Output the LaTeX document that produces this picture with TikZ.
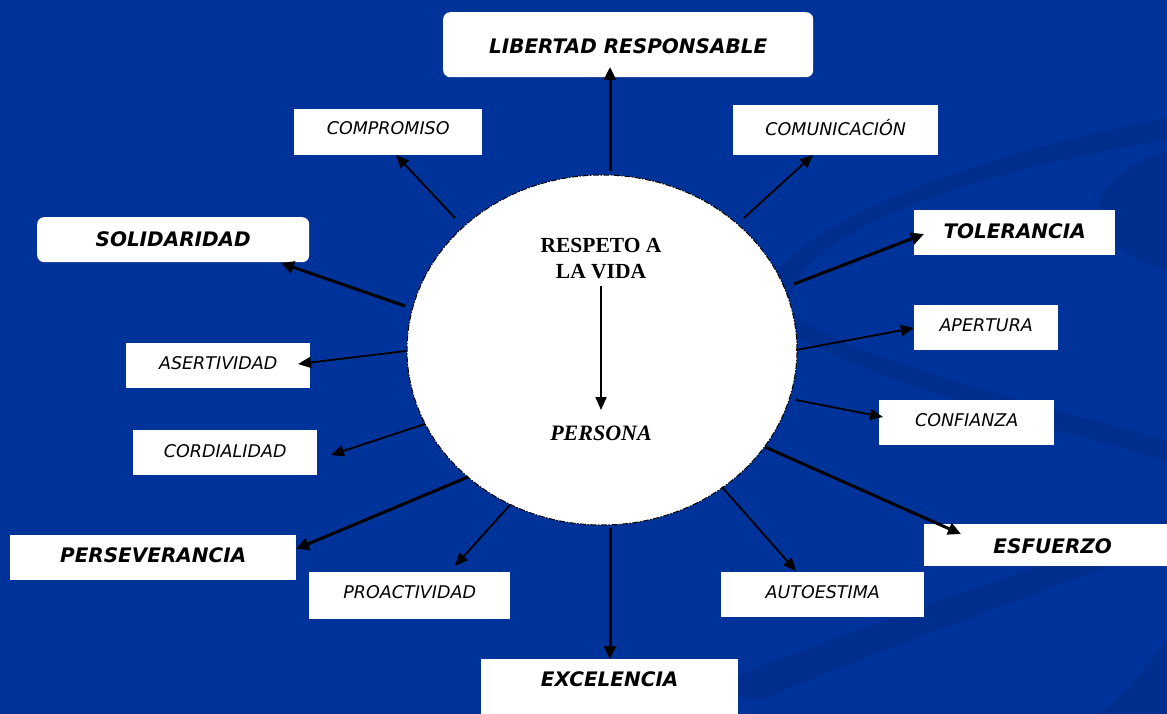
\documentclass[tikz,border=0pt]{standalone}
\usepackage{fontspec}
\setmainfont{DejaVu Sans}
\newfontfamily\serifbf{Liberation Serif}
\usetikzlibrary{arrows.meta,shapes.geometric,calc}
\definecolor{bgblue}{RGB}{0,51,153}
\definecolor{swoosh}{RGB}{0,46,143}
\tikzset{
  lbox/.style={rectangle, fill=white, inner sep=0pt, anchor=north west, align=center},
  rbox/.style={lbox, rounded corners=7pt},
  major/.style={font=\fontsize{20}{22}\selectfont\bfseries\itshape},
  minor/.style={font=\fontsize{17.5}{20}\selectfont\itshape},
  thinarr/.style={line width=1.8pt, -{Triangle[length=13pt,width=11pt]}},
  thickarr/.style={line width=3pt, -{Triangle[length=13pt,width=12pt]}},
}
\begin{document}
\begin{tikzpicture}[x=1pt,y=-1pt]
\useasboundingbox (0,0) rectangle (1167,714);
\fill[bgblue] (0,0) rectangle (1167,714);
% background swooshes
\fill[swoosh] (760,300) .. controls (780,230) and (950,160) .. (1167,118) -- (1167,140) .. controls (980,170) and (800,230) .. (790,300) .. controls (785,330) and (900,370) .. (1167,440) -- (1167,460) .. controls (900,390) and (770,340) .. (760,300) -- cycle;
\fill[swoosh] (1167,150) .. controls (1080,180) and (1070,240) .. (1167,270) -- cycle;
\fill[swoosh] (700,690) .. controls (850,630) and (1000,580) .. (1167,520) -- (1167,545) .. controls (1020,600) and (880,650) .. (760,700) -- cycle;
\fill[swoosh] (1100,714) .. controls (1130,690) and (1150,660) .. (1167,640) -- (1167,714) -- cycle;

% central circle
\node[ellipse, draw=black, fill=white, line width=1pt, dash pattern=on 6pt off 1.5pt on 1.5pt off 1.5pt, minimum width=390pt, minimum height=350pt, inner sep=0pt] (c) at (602,350) {};
\node[font=\serifbf\fontsize{21.5}{26}\selectfont\bfseries, align=center, inner sep=0pt] (resp) at (601,259) {RESPETO A\\LA VIDA};
\node[font=\serifbf\fontsize{22}{24}\selectfont\bfseries\itshape, inner sep=0pt] (pers) at (601,433) {PERSONA};
\draw[thinarr] (601,286) coordinate (r0) -- (601,410) coordinate (r1);

% boxes
\node[rbox, major, minimum width=370pt, text height=41pt, text depth=24pt] (lib) at (443,12) {LIBERTAD RESPONSABLE};
\node[lbox, minor, minimum width=188pt, text height=25pt, text depth=21pt] (comp) at (294,109) {COMPROMISO};
\node[lbox, minor, minimum width=205pt, text height=30pt, text depth=20pt] (comu) at (733,105) {COMUNICACIÓN};
\node[rbox, major, minimum width=272pt, text height=29pt, text depth=16pt] (soli) at (37,217) {SOLIDARIDAD};
\node[lbox, major, minimum width=201pt, text height=28pt, text depth=17pt] (tole) at (914,210) {TOLERANCIA};
\node[lbox, minor, minimum width=144pt, text height=26pt, text depth=19pt] (aper) at (914,305) {APERTURA};
\node[lbox, minor, minimum width=184pt, text height=26pt, text depth=19pt] (aser) at (126,343) {ASERTIVIDAD};
\node[lbox, minor, minimum width=175pt, text height=26pt, text depth=19pt] (conf) at (879,400) {CONFIANZA};
\node[lbox, minor, minimum width=184pt, text height=27pt, text depth=18pt] (cord) at (133,430) {CORDIALIDAD};
\node[lbox, major, minimum width=286pt, text height=27pt, text depth=18pt] (pers2) at (10,535) {PERSEVERANCIA};
\node[lbox, major, minimum width=243pt, text height=29pt, text depth=13pt] (esfu) at (924,524) {\hspace*{14pt}ESFUERZO};
\node[lbox, minor, minimum width=201pt, text height=26pt, text depth=21pt] (proa) at (309,572) {PROACTIVIDAD};
\node[lbox, minor, minimum width=203pt, text height=26pt, text depth=19pt] (auto) at (721,572) {AUTOESTIMA};
\node[lbox, major, minimum width=257pt, text height=27pt, text depth=28pt] (exce) at (481,659) {EXCELENCIA};

% connector endpoints
\coordinate (sLib) at (610,171);  \coordinate (eLib) at (610,67);
\coordinate (sComp) at (455,218); \coordinate (eComp) at (396,155);
\coordinate (sComu) at (744,218); \coordinate (eComu) at (813,155);
\coordinate (sSoli) at (405,306); \coordinate (eSoli) at (281,263);
\coordinate (sTole) at (794,284); \coordinate (eTole) at (924,234);
\coordinate (sAper) at (796,350); \coordinate (eAper) at (914,328);
\coordinate (sAser) at (406,351); \coordinate (eAser) at (298,364);
\coordinate (sConf) at (796,400); \coordinate (eConf) at (883,417);
\coordinate (sCord) at (425,424); \coordinate (eCord) at (331,455);
\coordinate (sPers) at (468,477); \coordinate (ePers) at (296,549);
\coordinate (sEsfu) at (765,447); \coordinate (eEsfu) at (961,534);
\coordinate (sProa) at (510,505); \coordinate (eProa) at (455,566);
\coordinate (sAuto) at (722,487); \coordinate (eAuto) at (796,571);
\coordinate (sExce) at (610,528); \coordinate (eExce) at (610,659);

\draw[thickarr] (sLib) -- (eLib);
\draw[thinarr] (sComp) -- (eComp);
\draw[thinarr] (sComu) -- (eComu);
\draw[thickarr] (sSoli) -- (eSoli);
\draw[thickarr] (sTole) -- (eTole);
\draw[thinarr] (sAper) -- (eAper);
\draw[thinarr] (sAser) -- (eAser);
\draw[thinarr] (sConf) -- (eConf);
\draw[thinarr] (sCord) -- (eCord);
\draw[thickarr] (sPers) -- (ePers);
\draw[thickarr] (sEsfu) -- (eEsfu);
\draw[thinarr] (sProa) -- (eProa);
\draw[thinarr] (sAuto) -- (eAuto);
\draw[thickarr] (sExce) -- (eExce);
\end{tikzpicture}
\end{document}
